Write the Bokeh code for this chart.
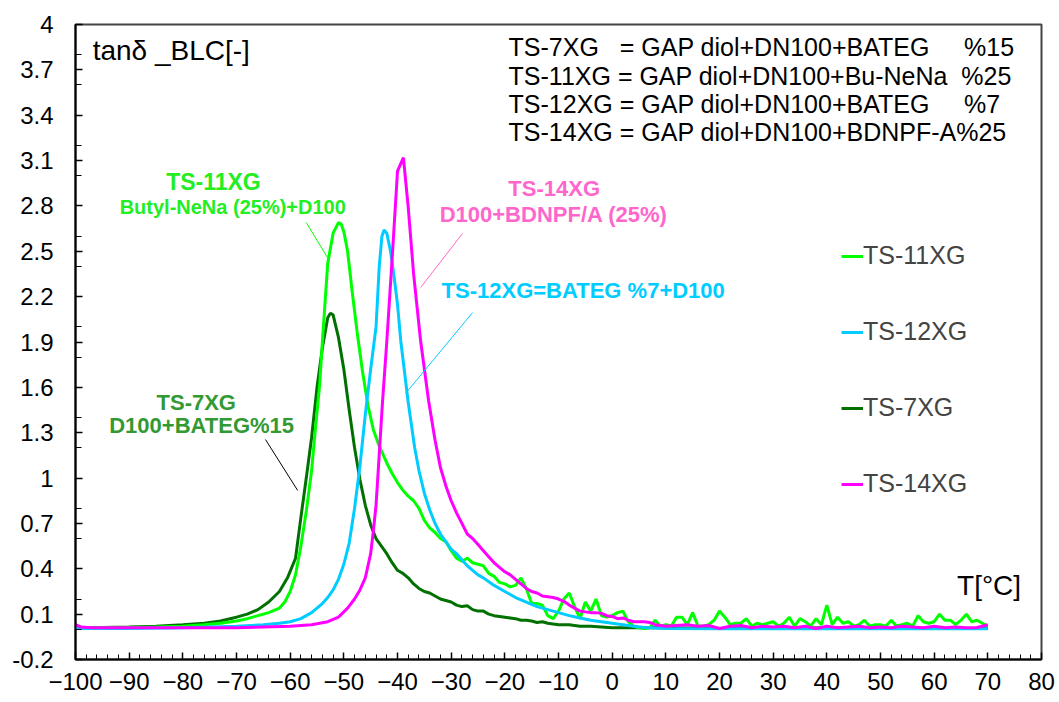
from bokeh.plotting import figure
from bokeh.models import FixedTicker, Label, Legend, LegendItem, Range1d
from bokeh.embed import file_html
from bokeh.resources import INLINE

FONT = "Liberation Sans"

# ---- loss factor tan(delta) versus temperature for the four binder formulations ----
t_ts11 = [-100, -95, -90, -85, -80, -76, -73, -70, -68, -66, -64, -62, -61, -60, -59, -58, -57, -56,
          -55.5, -54.5, -54, -53, -52, -51, -50.5, -50, -49.3, -48.5, -47.5, -46.5, -45.5, -44.5,
          -43.5, -42, -41, -40, -39, -38, -37, -36, -35, -34, -33, -32, -31, -30, -29, -28, -27,
          -26, -25, -24, -23, -22, -21, -20, -19, -18, -17, -16, -15, -14, -13, -12, -11, -10,
          -9, -8, -7, -6, -5, -4, -3, -2, -1, 0, 1, 2, 3, 4, 5, 6, 7, 8, 9, 10, 11, 12, 13, 14,
          15, 16, 17, 18, 19, 20, 21, 22, 23, 24, 25, 26, 27, 28, 29, 30, 31, 32, 33, 34, 35,
          36, 37, 38, 39, 40, 41, 42, 43, 44, 45, 46, 47, 48, 49, 50, 51, 52, 53, 54, 55, 56,
          57, 58, 59, 60, 61, 62, 63, 64, 65, 66, 67, 68, 69, 70]
tan_ts11 = [0.01, 0.01, 0.012, 0.015, 0.02, 0.03, 0.04, 0.055, 0.07, 0.09, 0.11, 0.14, 0.18, 0.25,
            0.36, 0.55, 0.78, 1.05, 1.25, 1.62, 1.9, 2.42, 2.62, 2.69, 2.68, 2.63, 2.5, 2.25, 1.96,
            1.7, 1.48, 1.32, 1.22, 1.1, 1.03, 0.97, 0.92, 0.88, 0.85, 0.8, 0.72, 0.67, 0.64, 0.6,
            0.58, 0.52, 0.47, 0.45, 0.47, 0.44, 0.43, 0.42, 0.37, 0.35, 0.31, 0.3, 0.28, 0.29, 0.34,
            0.27, 0.17, 0.17, 0.16, 0.09, 0.07, 0.12, 0.2, 0.24, 0.15, 0.07, 0.18, 0.12, 0.2, 0.09,
            0.08, 0.09, 0.11, 0.12, 0.05, 0.02, 0.01, 0.005, 0.01, 0.06, 0.02, 0.03, 0.02, 0.08,
            0.08, 0.03, 0.11, 0.02, 0.02, 0.03, 0.06, 0.12, 0.08, 0.03, 0.04, 0.04, 0.07, 0.02,
            0.04, 0.03, 0.04, 0.05, 0.02, 0.04, 0.08, 0.02, 0.07, 0.05, 0.02, 0.07, 0.03, 0.16,
            0.03, 0.08, 0.04, 0.05, 0.02, 0.03, 0.06, 0.02, 0.03, 0.03, 0.02, 0.06, 0.02, 0.03,
            0.04, 0.02, 0.09, 0.05, 0.04, 0.05, 0.1, 0.06, 0.06, 0.03, 0.06, 0.1, 0.05, 0.06, 0.04,
            0.02]

t_ts12 = [-100, -90, -80, -75, -70, -65, -62, -60, -58, -56, -55, -54, -53, -52, -51, -50, -49,
          -48, -47, -46, -45, -44, -43.4, -42.9, -42.5, -42, -41.3, -40.7, -40,
          -39.4, -38, -36.8, -36, -35, -34, -33, -32, -31, -30, -29, -28, -27, -26, -25, -24,
          -22, -20, -18, -16, -14, -12, -10, -8, -6, -4, -2, 0, 2, 4, 6, 8, 10, 20, 30, 40, 50,
          60, 70]
tan_ts12 = [0.005, 0.005, 0.01, 0.015, 0.02, 0.03, 0.04, 0.05, 0.07, 0.11, 0.14, 0.17, 0.21,
            0.26, 0.33, 0.43, 0.57, 0.8, 1.08, 1.42, 1.72, 2.0, 2.4, 2.6, 2.64, 2.62, 2.5,
            2.35, 2.15, 1.91, 1.5, 1.2, 1.05, 0.9, 0.79, 0.7, 0.63, 0.58, 0.53, 0.5, 0.46, 0.42,
            0.39, 0.36, 0.34, 0.29, 0.25, 0.21, 0.18, 0.15, 0.13, 0.11, 0.09, 0.075, 0.06, 0.05,
            0.04, 0.03, 0.02, 0.012, 0.008, 0.005, 0.003, 0.003, 0.003, 0.003, 0.003, 0.003]

t_ts7 = [-100, -95, -90, -85, -80, -76, -73, -70, -68, -66, -64, -62, -60.5, -59, -58, -57, -56,
         -55, -54, -53, -52.5, -52, -51, -50, -49, -48, -47, -46, -45, -44, -43, -42, -41, -40,
         -39, -38, -37, -36, -35, -34, -33, -32, -31, -30, -29, -28, -27, -26, -25, -24, -23, -22,
         -21, -20, -19, -18, -17, -16, -15, -14, -13, -12, -11, -10, -8, -6, -4, -2, 0, 5, 10, 20,
         30, 40, 50, 60, 70]
tan_ts7 = [0.01, 0.012, 0.015, 0.02, 0.03, 0.04, 0.055, 0.08, 0.1, 0.13, 0.18, 0.25, 0.34, 0.47,
           0.74, 1.0, 1.27, 1.6, 1.86, 2.06, 2.09, 2.08, 1.93, 1.72, 1.45, 1.2, 0.99, 0.82, 0.69,
           0.6, 0.55, 0.5, 0.44, 0.39, 0.37, 0.34, 0.3, 0.27, 0.25, 0.24, 0.22, 0.2, 0.19, 0.18,
           0.16, 0.15, 0.155, 0.13, 0.12, 0.12, 0.1, 0.09, 0.085, 0.08, 0.075, 0.07, 0.06, 0.06,
           0.055, 0.045, 0.05, 0.04, 0.035, 0.03, 0.03, 0.02, 0.02, 0.015, 0.01, 0.01, 0.01, 0.005,
           0.005, 0.01, 0.005, 0.005, 0.005]

t_ts14 = [-100, -99, -97, -90, -80, -70, -65, -60, -56, -53, -51, -49.3, -48, -47, -46, -45, -44.5,
          -44, -43.5, -42.8, -42, -41, -40, -38.9, -38, -37, -35.7, -34.2, -33, -32, -31, -30, -29,
          -28, -27, -26, -25, -24, -23, -22, -21, -20, -19, -18, -17, -16, -15, -14, -13, -12, -11,
          -10, -9, -8, -7, -6, -5, -4, -3, -2, -1, 0, 1, 2, 3, 4, 5, 6, 7, 8, 9, 10, 12, 14, 16,
          18, 20, 22, 24, 26, 28, 30, 32, 34, 36, 38, 40, 42, 44, 46, 48, 50, 52, 54, 56, 58, 60,
          62, 64, 66, 68, 70]
tan_ts14 = [0.03, 0.015, 0.01, 0.01, 0.01, 0.01, 0.015, 0.02, 0.03, 0.05, 0.08, 0.14, 0.2, 0.26,
            0.34, 0.5, 0.65, 0.82, 1.1, 1.5, 1.9, 2.45, 3.03, 3.12, 2.79, 2.35, 1.91, 1.51, 1.25,
            1.07, 0.95, 0.85, 0.77, 0.7, 0.63, 0.6, 0.56, 0.52, 0.48, 0.44, 0.41, 0.38, 0.36, 0.33,
            0.3, 0.27, 0.25, 0.24, 0.22, 0.215, 0.21, 0.2, 0.185, 0.16, 0.14, 0.12, 0.115, 0.11,
            0.11, 0.105, 0.09, 0.085, 0.07, 0.075, 0.06, 0.05, 0.05, 0.05, 0.045, 0.03, 0.025,
            0.02, 0.025, 0.03, 0.02, 0.025, 0.005, 0.02, 0.025, 0.01, 0.02, 0.015, 0.02, 0.01,
            0.02, 0.005, 0.02, 0.01, 0.015, 0.02, 0.01, 0.015, 0.01, 0.02, 0.015, 0.01, 0.02, 0.01,
            0.015, 0.01, 0.012, 0.03]

# axis ticks
x_ticks = [-100, -90, -80, -70, -60, -50, -40, -30, -20, -10, 0, 10, 20, 30, 40, 50, 60, 70, 80]
x_minor = list(range(-100, 81, 2))
y_tick_labels = ["-0.2", "0.1", "0.4", "0.7", "1", "1.3", "1.6", "1.9", "2.2", "2.5", "2.8",
                 "3.1", "3.4", "3.7", "4"]
y_minor_labels = ["-0.2", "0", "0.2", "0.4", "0.6", "0.8", "1", "1.2", "1.4", "1.6", "1.8", "2",
                  "2.2", "2.4", "2.6", "2.8", "3", "3.2", "3.4", "3.6", "3.8", "4"]

series = [
    ("TS-11XG", t_ts11, tan_ts11, "#00ff00"),
    ("TS-12XG", t_ts12, tan_ts12, "#00ccff"),
    ("TS-7XG", t_ts7, tan_ts7, "#007000"),
    ("TS-14XG", t_ts14, tan_ts14, "#ff00ff"),
]
draw_order = ["TS-7XG", "TS-11XG", "TS-12XG", "TS-14XG"]

p = figure(width=1059, height=702, output_backend="svg", toolbar_location=None,
           x_range=Range1d(-100, 80), y_range=Range1d(-0.2, 4.0),
           min_border_left=75, min_border_right=18, min_border_top=24, min_border_bottom=43)
p.xgrid.visible = False
p.ygrid.visible = False
p.outline_line_color = "#444444"
p.outline_line_width = 2
p.background_fill_color = "white"
p.border_fill_color = "white"

renderers = {}
lookup = {s[0]: s for s in series}
for name in draw_order:
    _, tx, ty, col = lookup[name]
    renderers[name] = p.line(tx, ty, line_color=col, line_width=3)

# axes
yt = [float(s) for s in y_tick_labels]
p.yaxis.ticker = FixedTicker(ticks=yt, minor_ticks=[float(s) for s in y_minor_labels])
p.yaxis.major_label_overrides = {v: s for v, s in zip(yt, y_tick_labels)}
p.xaxis.ticker = FixedTicker(ticks=x_ticks, minor_ticks=x_minor)
for ax in (p.xaxis[0], p.yaxis[0]):
    ax.axis_line_color = "black"
    ax.axis_line_width = 2
    ax.major_tick_in = 7
    ax.major_tick_out = 0
    ax.major_tick_line_color = "black"
    ax.major_tick_line_width = 1.5
    ax.minor_tick_out = 0
    ax.minor_tick_line_color = "black"
    ax.minor_tick_line_width = 1
    ax.major_label_text_font = FONT
    ax.major_label_text_font_size = "24px"
    ax.major_label_text_color = "black"
p.yaxis.minor_tick_in = 6
p.xaxis.minor_tick_in = 5
p.yaxis.major_label_standoff = 22
p.xaxis.major_label_standoff = 13

# legend
legend = Legend(items=[LegendItem(label=n, renderers=[renderers[n]]) for n, *_ in series],
                location=(766, 161), label_text_font=FONT, label_text_font_size="25px",
                glyph_width=22, glyph_height=28, label_height=28, spacing=47, padding=0,
                margin=0, border_line_color=None, background_fill_alpha=0, label_standoff=0)
p.add_layout(legend)

# axis captions
p.add_layout(Label(x=-96.8, y=3.83, text="tanδ _BLC[-]", text_font=FONT, text_font_size="28px",
                   text_baseline="middle", text_color="black"))
p.add_layout(Label(x=76.2, y=0.29, text="T[°C]", text_font=FONT, text_font_size="28px",
                   text_baseline="middle", text_align="right", text_color="black"))

# composition key
nb = "\u00a0"
key_lines = [
    "TS-7XG" + nb * 3 + "= GAP diol+DN100+BATEG" + nb * 5 + "%15",
    "TS-11XG = GAP diol+DN100+Bu-NeNa" + nb * 2 + "%25",
    "TS-12XG = GAP diol+DN100+BATEG" + nb * 5 + "%7",
    "TS-14XG = GAP diol+DN100+BDNPF-A%25",
]
key_y = [3.848, 3.662, 3.477, 3.292]
for txt, yy in zip(key_lines, key_y):
    p.add_layout(Label(x=-19.3, y=yy, text=txt, text_font=FONT, text_font_size="25px",
                       text_baseline="middle", text_color="black"))

# curve call-outs: (lines, x list, y list, font sizes, colour)
callouts = [
    (["TS-11XG", "Butyl-NeNa (25%)+D100"], [-74.3, -70.7], [2.955, 2.79], ["23px", "20px"],
     "#22ee22"),
    (["TS-14XG", "D100+BDNPF/A (25%)"], [-10.8, -10.9], [2.915, 2.743], ["22px", "22px"],
     "#ff66cc"),
    (["TS-12XG=BATEG %7+D100"], [-5.4], [2.24], ["22px"], "#00ccff"),
    (["TS-7XG", "D100+BATEG%15"], [-77.5, -76.5], [1.50, 1.348], ["22px", "22px"], "#339933"),
]
for lines, xs, ys, sizes, col in callouts:
    for txt, xx, yy, fs in zip(lines, xs, ys, sizes):
        p.add_layout(Label(x=xx, y=yy, text=txt, text_font=FONT, text_font_size=fs,
                           text_font_style="bold", text_align="center", text_baseline="middle",
                           text_color=col))

leaders = [
    ((-57.0, 2.69), (-52.9, 2.45), "#00ff00"),
    ((-27.9, 2.617), (-35.7, 2.26), "#ff66cc"),
    ((-26.0, 2.095), (-38.5, 1.56), "#00ccff"),
    ((-64.6, 1.255), (-58.6, 0.918), "black"),
]
for (x0, y0), (x1, y1), col in leaders:
    p.segment(x0=[x0], y0=[y0], x1=[x1], y1=[y1], line_color=col, line_width=1)

open("out.html", "w").write(file_html(p, INLINE))
